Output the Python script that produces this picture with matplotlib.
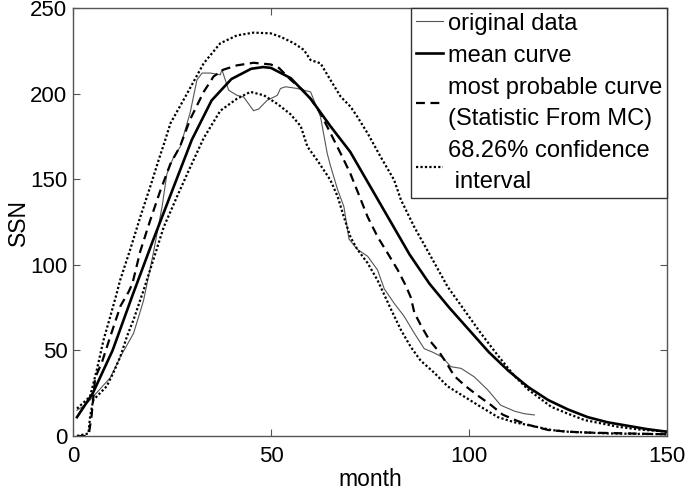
import matplotlib
matplotlib.use("Agg")
import matplotlib.pyplot as plt

plt.rcParams['font.family'] = ['Liberation Sans', 'DejaVu Sans']

# ---- data ----
mean_x = [1, 5, 10, 15, 20, 25, 30, 35, 40, 45, 48, 50, 55, 60, 65, 70, 75, 80, 85,
          90, 95, 100, 105, 110, 115, 120, 125, 130, 135, 140, 145, 150]
mean_y = [11, 25, 50, 82, 113, 143, 173, 196, 208.5, 214.5, 215.5, 215, 209, 197, 181,
          166, 146, 126, 106, 89, 75, 62, 49, 38, 28.5, 21, 15.5, 11, 8, 6, 4, 2.5]

mp_x = [1, 3, 4, 4.7, 5.6, 7.3, 9.4, 12, 14, 15, 17, 19.5, 22, 24.6, 27, 29.6, 33, 35.5,
        38, 41.4, 45.6, 50, 52, 55, 58, 60, 62.5, 65, 67.6, 70, 72, 74.4, 77, 79.4, 82,
        84, 85.3, 86.2, 88, 90, 92.5, 94.6, 96.3, 99.2, 102, 105.6, 108.5, 112, 115,
        120, 125, 130, 140, 150]
mp_y = [0, 0, 1, 12, 34, 43, 58, 76, 84, 89, 108, 126, 143, 159, 169, 185, 201, 210,
        214, 216.5, 218, 217, 215, 208, 202, 197, 188.5, 177, 165, 153.5, 142, 128, 116,
        107, 97, 88, 81, 72, 64, 56, 49, 41.5, 35, 29, 24, 18, 12.5, 9, 6.5, 3.5, 2.5,
        2, 1.5, 1]

orig_x = [1, 3, 4.7, 9.4, 11.9, 15.3, 17.8, 20.3, 22.5, 23.7, 25.4, 27.1, 29.6, 31.3,
          32.6, 34.7, 37.2, 37.6, 39.3, 41.4, 43.1, 45.6, 46.9, 49, 51.6, 52.4, 53.7,
          56.6, 60, 62.5, 64.2, 65, 66.8, 68.4, 69.7, 71.8, 74.4, 76.9, 78.6, 81.1, 83.6,
          86.2, 88.7, 90.8, 93.3, 95.4, 98, 101.3, 104.7, 108, 111.5, 114, 116.5]
orig_y = [15, 18, 22, 34, 46, 60, 79, 107, 134, 153, 163, 169, 189, 208, 212, 212, 211,
          214, 202, 199, 198, 190, 191, 196, 199, 203, 204, 203, 201, 186.5, 165, 158,
          144, 134, 115, 109, 105, 97, 86, 77.5, 70, 60, 51, 49, 46, 40.5, 39.5, 34.6,
          27, 18, 14.5, 13, 12.3]

up_x = [1, 4.3, 6, 7.7, 9.4, 11, 11.9, 14.4, 17, 19.5, 21.6, 23.3, 24.6, 28.8, 33, 37.2,
        41.4, 45.6, 49.9, 52.4, 55.8, 58.3, 60, 62.5, 65, 67.6, 70.1, 71.8, 74.4, 77.7,
        81.1, 82.8, 86.2, 90.4, 94.6, 98.8, 103, 107.3, 111.5, 115, 120.8, 125, 129.2,
        137.6, 143, 150]
up_y = [16, 23, 38.5, 56, 69.7, 83, 91, 108.6, 128, 145.6, 161, 173, 182.6, 200, 217.7,
        229.4, 234, 235.6, 235.2, 233.2, 229.4, 225.5, 219.6, 217.7, 208, 198.2, 192.3,
        186.5, 176.8, 163, 149.5, 138, 122, 104.7, 87.2, 73.6, 60, 47, 35, 27, 17, 13,
        9.3, 5.4, 3.8, 2.5]

lo_x = [1, 3.9, 4.3, 5.1, 8.5, 10.2, 11.9, 13.6, 15.3, 17.8, 20.3, 22.9, 26.3, 29.6, 33,
        37.2, 41.4, 44.8, 48.2, 51.6, 54.9, 57.5, 59.2, 61.7, 65, 66.8, 68.4, 70.1, 71.8,
        74.4, 76.9, 80.3, 82.8, 85.3, 87.8, 91.2, 94.6, 98.8, 103, 107.3, 111.5, 115.7,
        120.8, 125, 135, 150]
lo_y = [0, 1.5, 11, 21, 29, 37, 46, 58, 68, 85, 103, 122, 140, 157, 174, 190, 197, 201,
        199, 194, 188, 181, 169, 161, 149.5, 140, 128, 116, 109, 101, 91, 74, 62, 52, 44,
        37, 29, 23, 17, 11, 8, 6, 3.5, 2.5, 1.5, 1]

xticks = [0, 50, 100, 150]
yticks = [0, 50, 100, 150, 200, 250]

fig = plt.figure(figsize=(6.85, 4.92), dpi=100)
ax = fig.add_axes([73/685, 1-436/492, (667-73)/685, (436-8)/492])

l1, = ax.plot(orig_x, orig_y, color='#555555', lw=0.8, label='original data')
l2, = ax.plot(mean_x, mean_y, color='black', lw=1.9, label='mean curve')
l3, = ax.plot(mp_x, mp_y, color='black', lw=1.6, dashes=(4, 2.5),
              label='most probable curve\n(Statistic From MC)')
l4, = ax.plot(up_x, up_y, color='black', lw=1.6, dashes=(1, 1),
              label='68.26% confidence\n interval')
ax.plot(lo_x, lo_y, color='black', lw=1.6, dashes=(1, 1))

ax.set_xlim(0, 150)
ax.set_ylim(0, 250)
ax.set_xticks(xticks)
ax.set_yticks(yticks)
ax.tick_params(direction='in', top=True, right=True, length=5, width=0.8,
               labelsize=16, color='#555555')
ax.tick_params(axis='x', pad=7)
ax.tick_params(axis='y', pad=4)
for s in ax.spines.values():
    s.set_color('#555555')
    s.set_linewidth(1.0)

ax.set_xlabel('month', fontsize=16.5, labelpad=1)
ax.set_ylabel('SSN', fontsize=16.5, labelpad=0)

leg = ax.legend(handles=[l1, l2, l3, l4], loc='upper right', fontsize=17,
                frameon=True, fancybox=False, borderaxespad=0, handlelength=1.15,
                handletextpad=0.2, borderpad=0.2, labelspacing=0.42)
for t in leg.get_texts():
    t.set_linespacing(1.55)
leg.get_frame().set_edgecolor('#333333')
leg.get_frame().set_linewidth(1.0)
leg.get_frame().set_alpha(1)

fig.savefig('out.png', dpi=100)
